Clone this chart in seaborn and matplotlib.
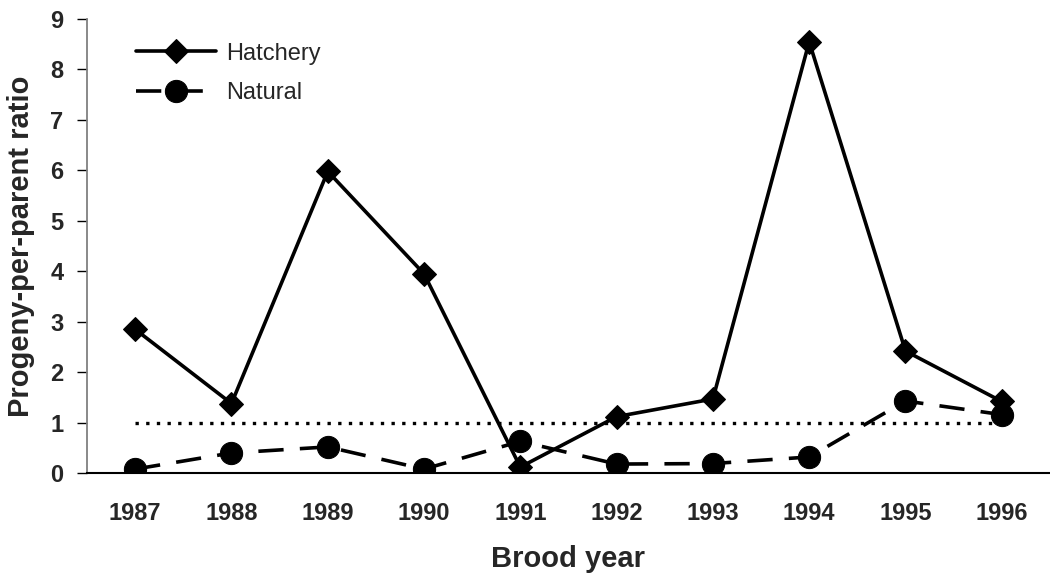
import matplotlib
matplotlib.use("Agg")
import matplotlib.pyplot as plt
import seaborn as sns
import numpy as np
import pandas as pd

years = [1987, 1988, 1989, 1990, 1991, 1992, 1993, 1994, 1995, 1996]
hatchery = [2.85, 1.38, 5.98, 3.95, 0.12, 1.12, 1.47, 8.55, 2.42, 1.42]
natural = [0.08, 0.40, 0.52, 0.08, 0.63, 0.18, 0.19, 0.32, 1.43, 1.16]
replacement = 1.0
y_ticks = [0, 1, 2, 3, 4, 5, 6, 7, 8, 9]


def make_plot(df):
    sns.set_style("white")
    plt.rcParams["font.family"] = ["Liberation Sans", "DejaVu Sans"]

    fig = plt.figure(figsize=(10.5, 5.77), dpi=100)
    ax = fig.add_axes([0.0829, 0.180, 0.917, 0.787])

    sns.lineplot(
        ax=ax,
        data=df,
        x="Year",
        y="Ratio",
        style="Origin",
        markers={"Hatchery": "D", "Natural": "o"},
        dashes={"Hatchery": "", "Natural": (7, 4.5)},
        color="black",
        linewidth=2.6,
        markersize=16,
        markeredgecolor="black",
    )
    # diamonds a bit smaller than the circles
    for ln in ax.lines:
        if ln.get_marker() == "D":
            ln.set_markersize(12.5)

    # replacement line at ratio = 1
    ax.plot(
        [years[0], years[-1]],
        [replacement, replacement],
        color="black",
        linewidth=2.4,
        linestyle=(0, (1, 2.2)),
        dash_capstyle="butt",
        zorder=1,
    )

    ax.set_xlim(years[0] - 0.5, years[-1] + 0.5)
    ax.set_ylim(0, 9)
    ax.set_yticks(y_ticks)
    ax.set_xticks(years)
    ax.set_xticks([y - 0.5 for y in years[1:]] + [years[-1] + 0.5], minor=True)
    ax.tick_params(axis="x", which="major", length=0, pad=21, labelsize=17)
    ax.tick_params(axis="x", which="minor", length=8, width=1.3, color="#808080", direction="out")
    ax.tick_params(axis="y", which="major", length=7, width=1, color="black", direction="out", pad=10, labelsize=17, left=True)
    for lbl in ax.get_xticklabels() + ax.get_yticklabels():
        lbl.set_fontweight("bold")

    ax.set_xlabel("Brood year", fontsize=21, fontweight="bold", labelpad=14)
    ax.set_ylabel("Progeny-per-parent ratio", fontsize=21, fontweight="bold", labelpad=11)

    for s in ["top", "right"]:
        ax.spines[s].set_visible(False)
    ax.spines["left"].set_color("#808080")
    ax.spines["left"].set_linewidth(1.3)
    ax.spines["bottom"].set_color("black")
    ax.spines["bottom"].set_linewidth(1.5)

    ax.legend(
        loc="upper left",
        bbox_to_anchor=(0.029, 0.995),
        frameon=False,
        fontsize=17,
        handlelength=3.4,
        handletextpad=0.4,
        labelspacing=0.75,
        title=None,
    )

    fig.savefig("out.png", dpi=100)


def main():
    df = pd.DataFrame(
        {
            "Year": years * 2,
            "Ratio": hatchery + natural,
            "Origin": ["Hatchery"] * len(years) + ["Natural"] * len(years),
        }
    )
    make_plot(df)


if __name__ == "__main__":
    main()
